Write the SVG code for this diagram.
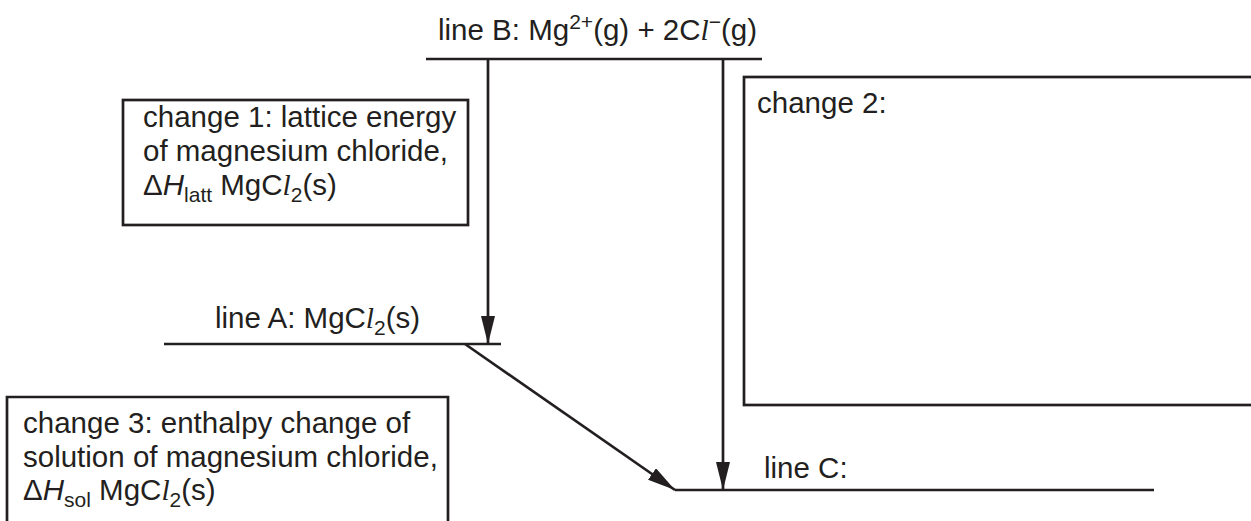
<svg xmlns="http://www.w3.org/2000/svg" width="1251" height="521" viewBox="0 0 1251 521">
<style>
  .ln { stroke:#231f20; stroke-width:2.7; fill:none; }
  .bx { stroke:#231f20; stroke-width:2.7; fill:none; }
  .t { font-family:"Liberation Sans", Arial, sans-serif; font-size:29.5px; fill:#231f20; }
  .it { font-style:italic; }
  .cl { font-family:"Liberation Serif", "Times New Roman", serif; font-style:italic; }
  .sm { font-size:21px; }
</style>
<defs>
  <marker id="arr" markerUnits="userSpaceOnUse" markerWidth="28" markerHeight="14" refX="28" refY="7" orient="auto">
    <path d="M0,0 L28,7 L0,14 z" fill="#231f20"/>
  </marker>
</defs>
<rect width="1251" height="521" fill="#ffffff"/>

<g id="line-B">
  <line class="ln" x1="426" y1="59" x2="762" y2="59"/>
  <text class="t" x="438" y="40">line B: Mg<tspan class="sm" dy="-11">2+</tspan><tspan dy="11">(g) + 2C</tspan><tspan class="cl">l</tspan><tspan class="sm" dy="-11">−</tspan><tspan dy="11">(g)</tspan></text>
</g>

<g id="change-1">
  <rect class="bx" x="123" y="100" width="345" height="125"/>
  <text class="t" x="143" y="127">change 1: lattice energy</text>
  <text class="t" x="143" y="161">of magnesium chloride,</text>
  <text class="t" x="143" y="195">Δ<tspan class="it">H</tspan><tspan class="sm" dy="7">latt</tspan><tspan dy="-7"> MgC</tspan><tspan class="cl">l</tspan><tspan class="sm" dy="7">2</tspan><tspan dy="-7">(s)</tspan></text>
</g>

<g id="change-2">
  <rect class="bx" x="744" y="77" width="520" height="328"/>
  <text class="t" x="757" y="113">change 2:</text>
</g>

<g id="line-A">
  <line class="ln" x1="164" y1="344" x2="501" y2="344"/>
  <text class="t" x="215" y="328">line A: MgC<tspan class="cl">l</tspan><tspan class="sm" dy="7">2</tspan><tspan dy="-7">(s)</tspan></text>
</g>

<g id="change-3">
  <path class="bx" d="M7,530 L7,397 L448,397 L448,530"/>
  <text class="t" x="23" y="433">change 3: enthalpy change of</text>
  <text class="t" x="23" y="467">solution of magnesium chloride,</text>
  <text class="t" x="23" y="500">Δ<tspan class="it">H</tspan><tspan class="sm" dy="7">sol</tspan><tspan dy="-7"> MgC</tspan><tspan class="cl">l</tspan><tspan class="sm" dy="7">2</tspan><tspan dy="-7">(s)</tspan></text>
</g>

<g id="line-C">
  <line class="ln" x1="675" y1="490" x2="1154" y2="490"/>
  <text class="t" x="764" y="478">line C:</text>
</g>

<g id="connectors">
  <line class="ln" x1="488" y1="59" x2="488" y2="344" marker-end="url(#arr)"/>
  <line class="ln" x1="723" y1="59" x2="723" y2="490" marker-end="url(#arr)"/>
  <line class="ln" x1="465" y1="344" x2="675" y2="490" marker-end="url(#arr)"/>
</g>
</svg>
